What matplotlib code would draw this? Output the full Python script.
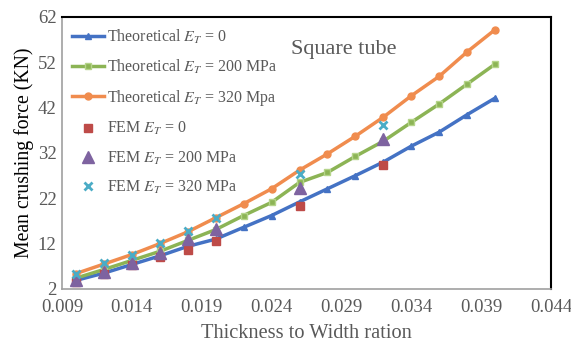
import numpy as np
import matplotlib.pyplot as plt
from matplotlib.ticker import MultipleLocator

# thickness-to-width ratio for theoretical curves
ratio = [0.010, 0.012, 0.014, 0.016, 0.018, 0.020, 0.022, 0.024,
         0.026, 0.028, 0.030, 0.032, 0.034, 0.036, 0.038, 0.040]
theo_0 = [3.9, 5.5, 7.4, 9.3, 11.4, 13.0, 15.6, 18.2,
          21.2, 24.1, 27.0, 30.0, 33.5, 36.6, 40.45, 44.1]
theo_200 = [4.4, 6.3, 8.3, 10.3, 12.7, 15.1, 18.2, 21.1,
            25.5, 27.7, 31.25, 34.6, 38.75, 42.8, 47.2, 51.6]
theo_320 = [5.4, 7.5, 9.6, 12.0, 14.6, 17.7, 20.8, 24.1,
            28.2, 31.8, 35.7, 39.9, 44.6, 48.9, 54.3, 59.2]

# FEM results
fem_ratio = [0.010, 0.012, 0.014, 0.016, 0.018, 0.020, 0.026, 0.032]
fem_0 = [3.6, 5.2, 7.2, 9.0, 10.5, 12.6, 20.4, 29.3]
fem_200 = [4.0, 5.7, 7.7, 9.9, 13.0, 15.2, 24.3, 35.1]
fem_320 = [5.2, 7.7, 9.6, 12.1, 14.7, 17.7, 27.4, 38.25]

xticks = [0.009, 0.014, 0.019, 0.024, 0.029, 0.034, 0.039, 0.044]
yticks = [2, 12, 22, 32, 42, 52, 62]

plt.rcParams['font.family'] = ['Liberation Serif', 'DejaVu Serif']
plt.rcParams['mathtext.fontset'] = 'stix'
gray = '#595959'

fig = plt.figure(figsize=(5.71, 3.52), dpi=100)
ax = fig.add_axes([0.1086, 0.179, 0.8564, 0.773])

ax.plot(ratio, theo_0, color='#4472c4', lw=2.5, marker='^', ms=5,
        label='Theoretical $E_T$ = 0', zorder=3)
ax.plot(ratio, theo_200, color='#8cb455', lw=2.5, marker='s', ms=5,
        mfc='#8cb455', mec='#b5d48a', label='Theoretical $E_T$ = 200 MPa', zorder=3)
ax.plot(ratio, theo_320, color='#f08c4e', lw=2.5, marker='o', ms=5,
        label='Theoretical $E_T$ = 320 Mpa', zorder=3)
ax.plot(fem_ratio, fem_0, ls='none', marker='s', ms=6, color='#be4b48',
        label='FEM $E_T$ = 0', zorder=4)
ax.plot(fem_ratio, fem_200, ls='none', marker='^', ms=8, color='#7e63a0',
        label='FEM $E_T$ = 200 MPa', zorder=5)
ax.plot(fem_ratio, fem_320, ls='none', marker='x', ms=6, mew=2, color='#4bacc6',
        label='FEM $E_T$ = 320 MPa', zorder=6)

ax.set_xlim(0.009, 0.044)
ax.set_ylim(2, 62)
ax.set_xticks(xticks)
ax.set_xticklabels([f'{t:.3f}' for t in xticks])
ax.set_yticks(yticks)
ax.tick_params(length=0, labelsize=13.5, colors=gray)
ax.tick_params(axis='x', pad=7)
ax.tick_params(axis='y', pad=4)

for s in ['left', 'bottom']:
    ax.spines[s].set_color('#a0a0a0')
    ax.spines[s].set_linewidth(1.2)
for s in ['top', 'right']:
    ax.spines[s].set_color('black')
    ax.spines[s].set_linewidth(1.5)

ax.set_xlabel('Thickness to Width ration', fontsize=14.7, color=gray, labelpad=6)
ax.set_ylabel('Mean crushing force (KN)', fontsize=14.2, color='black', labelpad=3)

ax.text(0.468, 0.865, 'Square tube', transform=ax.transAxes, fontsize=16, color=gray)

leg = ax.legend(loc='upper left', frameon=False, fontsize=11.5, labelspacing=0.76,
                handlelength=2.0, handletextpad=0.15, borderaxespad=0.1,
                bbox_to_anchor=(0.005, 0.99))
for t in leg.get_texts():
    t.set_color(gray)

fig.savefig('out.png', dpi=100)
